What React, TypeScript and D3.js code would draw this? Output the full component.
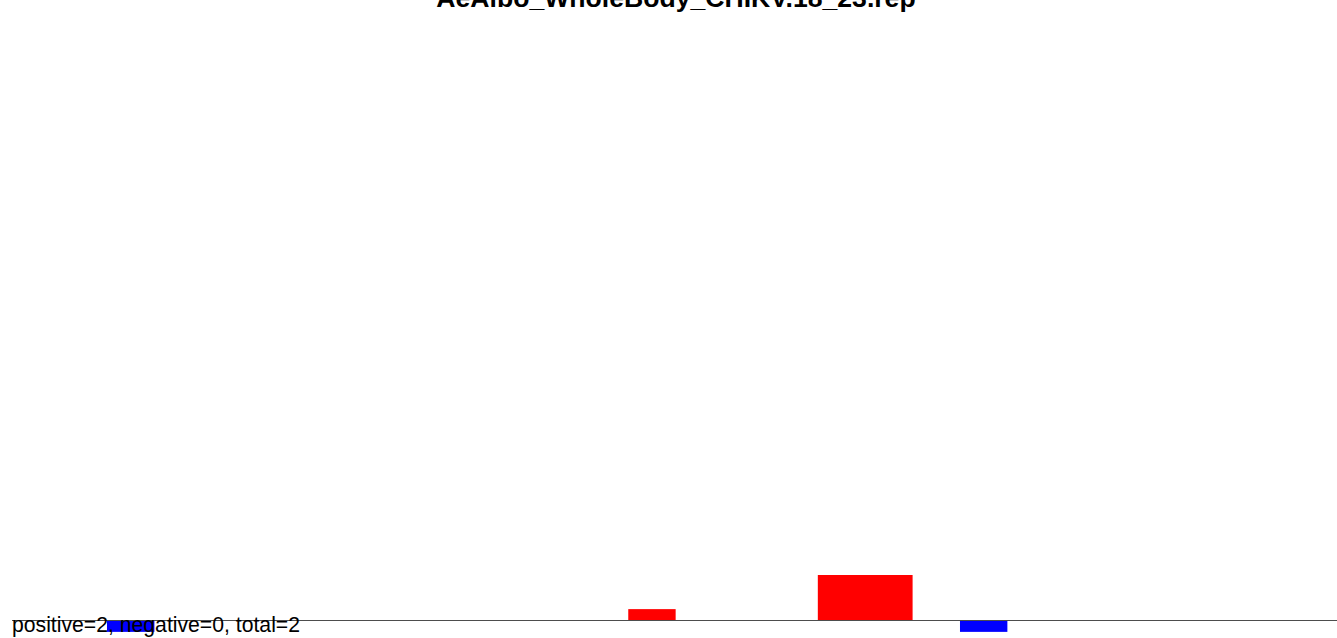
import React from "react";
import * as d3 from "d3";

const title = "AeAlbo_WholeBody_CHIKV.18_23.rep";
const summary = "positive=2, negative=0, total=2";
const binStart = [2, 13, 17, 20];
const binEnd = [3, 14, 19, 21];
const binValue = [-1, 1, 4, -1];
const binCount = 28;

export default function App() {
  const W = 1337, H = 638;
  const x = d3.scaleLinear().domain([0, binCount]).range([12.2, 1339.1]);
  const y = d3.scaleLinear().domain([0, 4]).range([620.5, 575]);
  return (
    <svg width={W} height={H} style={{ position: "absolute", left: 0, top: 0, background: "#fff" }}
      fontFamily="Liberation Sans, Arial, sans-serif">
      <text x={676} y={7} textAnchor="middle" fontSize={26.6} fontWeight="bold">{title}</text>
      {binStart.map((s, i) => {
        const v = binValue[i];
        const y0 = y(0), y1 = y(v);
        return (
          <rect key={i} x={x(s)} width={x(binEnd[i]) - x(s)}
            y={Math.min(y0, y1)} height={Math.abs(y1 - y0)}
            fill={v > 0 ? "#ff0000" : "#0000ff"} />
        );
      })}
      <line x1={12} x2={1337} y1={620.5} y2={620.5} stroke="#4d4d4d" strokeWidth={1} />
      <text x={12} y={632} fontSize={21.2}>{summary}</text>
    </svg>
  );
}
